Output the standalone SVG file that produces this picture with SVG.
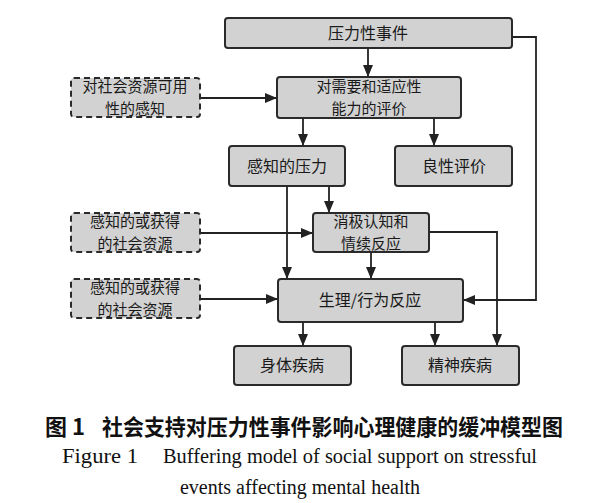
<svg xmlns="http://www.w3.org/2000/svg" width="600" height="503" viewBox="0 0 600 503">
<defs>
<style>
.box{fill:#d2d2d2;stroke:#2a2a2a;stroke-width:2}
.dash{fill:#d2d2d2;stroke:#2a2a2a;stroke-width:2;stroke-dasharray:6 4}
.t{font-family:"Noto Sans CJK SC","Noto Sans",sans-serif;font-size:16px;fill:#1a1a1a;text-anchor:middle}
.t2{font-family:"Noto Sans CJK SC","Noto Sans",sans-serif;font-size:15px;fill:#1a1a1a;text-anchor:middle}
.c{fill:none;stroke:#222;stroke-width:1.8}
.cap{font-family:"Noto Sans CJK SC",sans-serif;font-size:22px;font-weight:bold;fill:#111}
.en{font-family:"Liberation Serif","DejaVu Serif",serif;font-size:20px;fill:#111}
</style>
<marker id="ah" markerWidth="12" markerHeight="10" refX="11" refY="5" orient="auto" markerUnits="userSpaceOnUse">
<path d="M0,0 L12,5 L0,10 Z" fill="#222"/>
</marker>
</defs>
<rect width="600" height="503" fill="#fff"/>
<g id="connectors">
<path class="c" d="M368,48 V76" marker-end="url(#ah)"/>
<path class="c" d="M512,37 H536 V300 H464" marker-end="url(#ah)"/>
<path class="c" d="M200,98 H276" marker-end="url(#ah)"/>
<path class="c" d="M303,118 V145" marker-end="url(#ah)"/>
<path class="c" d="M434,118 V145" marker-end="url(#ah)"/>
<path class="c" d="M287,186 V278" marker-end="url(#ah)"/>
<path class="c" d="M329,186 V212" marker-end="url(#ah)"/>
<path class="c" d="M200,233 H312" marker-end="url(#ah)"/>
<path class="c" d="M371,252 V278" marker-end="url(#ah)"/>
<path class="c" d="M429,232 H497 V345" marker-end="url(#ah)"/>
<path class="c" d="M200,299 H277" marker-end="url(#ah)"/>
<path class="c" d="M303,322 V345" marker-end="url(#ah)"/>
<path class="c" d="M435,322 V345" marker-end="url(#ah)"/>
</g>
<g id="n1"><rect class="box" x="225" y="18" width="287" height="30" rx="3"/><text class="t" x="368" y="39">压力性事件</text></g>
<g id="n2"><rect class="box" x="277" y="77" width="184" height="41" rx="3"/><text class="t2" x="369" y="92">对需要和适应性</text><text class="t2" x="369" y="114">能力的评价</text></g>
<g id="d1"><rect class="dash" x="71" y="78" width="129" height="39" rx="3"/><text class="t2" x="135" y="92">对社会资源可用</text><text class="t2" x="135" y="114">性的感知</text></g>
<g id="n3"><rect class="box" x="229" y="146" width="116" height="40" rx="3"/><text class="t" x="287" y="172">感知的压力</text></g>
<g id="n4"><rect class="box" x="395" y="146" width="117" height="40" rx="3"/><text class="t" x="454" y="172">良性评价</text></g>
<g id="n5"><rect class="box" x="313" y="213" width="116" height="39" rx="3"/><text class="t2" x="371" y="227">消极认知和</text><text class="t2" x="371" y="249">情续反应</text></g>
<g id="d2"><rect class="dash" x="71" y="213" width="129" height="39" rx="3"/><text class="t2" x="135" y="227">感知的或获得</text><text class="t2" x="135" y="249">的社会资源</text></g>
<g id="d3"><rect class="dash" x="71" y="279" width="129" height="39" rx="3"/><text class="t2" x="135" y="293">感知的或获得</text><text class="t2" x="135" y="315">的社会资源</text></g>
<g id="n6"><rect class="box" x="278" y="279" width="185" height="43" rx="3"/><text class="t" x="370" y="306">生理/行为反应</text></g>
<g id="n7"><rect class="box" x="234" y="346" width="117" height="39" rx="3"/><text class="t" x="292" y="371">身体疾病</text></g>
<g id="n8"><rect class="box" x="402" y="346" width="117" height="39" rx="3"/><text class="t" x="460" y="371">精神疾病</text></g>
<g id="caption">
<text class="cap" x="45" y="435">图 1</text>
<text class="cap" x="102" y="435" textLength="461" lengthAdjust="spacingAndGlyphs">社会支持对压力性事件影响心理健康的缓冲模型图</text>
<text class="en" x="62" y="463" textLength="76" lengthAdjust="spacingAndGlyphs">Figure 1</text>
<text class="en" x="163" y="463" textLength="374" lengthAdjust="spacingAndGlyphs">Buffering model of social support on stressful</text>
<text class="en" x="300" y="494" text-anchor="middle">events affecting mental health</text>
</g>
</svg>
